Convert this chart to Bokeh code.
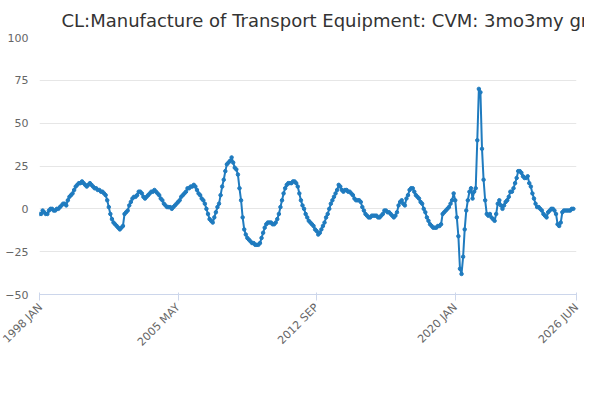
from bokeh.plotting import figure
from bokeh.models import FixedTicker, Legend, Label
from bokeh.embed import file_html
from bokeh.resources import INLINE

y1998 = [-3,-3,-1,-2,-3,-3,-1,0,0,-1,-1,0]
y1999 = [0,1,2,3,3,2,5,7,8,9,11,13]
y2000 = [14,15,15,16,15,14,13,14,15,14,13,12]
y2001 = [12,11,11,10,10,9,8,5,1,-3,-6,-8]
y2002 = [-9,-10,-11,-12,-11,-10,-3,-2,-1,2,4,6]
y2003 = [7,7,8,10,10,9,7,6,7,8,9,10]
y2004 = [10,11,10,9,8,6,5,3,2,1,1,1]
y2005 = [0,1,2,3,4,5,7,8,9,10,12,12]
y2006 = [13,13,14,13,11,9,8,6,5,3,0,-3]
y2007 = [-6,-7,-8,-5,-2,1,3,8,13,17,22,26]
y2008 = [27,28,30,27,24,23,20,12,5,-5,-12,-15]
y2009 = [-17,-18,-19,-20,-20,-21,-21,-21,-20,-17,-14,-11]
y2010 = [-9,-8,-8,-8,-9,-9,-8,-6,-3,1,5,9]
y2011 = [12,14,15,15,15,16,16,15,13,9,5,2]
y2012 = [0,-3,-5,-7,-8,-9,-10,-12,-13,-15,-14,-12]
y2013 = [-10,-8,-5,-3,0,3,5,7,9,11,14,13]
y2014 = [11,10,11,11,10,10,9,8,6,5,5,5]
y2015 = [4,1,-1,-3,-4,-5,-5,-4,-4,-4,-4,-5]
y2016 = [-5,-4,-3,-1,-1,-2,-2,-3,-4,-5,-4,-2]
y2017 = [2,4,5,3,2,6,8,11,12,12,10,8]
y2018 = [7,6,4,3,0,-2,-5,-7,-9,-10,-11,-11]
y2019 = [-11,-10,-10,-9,-3,-2,-1,0,1,3,5,9]
y2020 = [5,-5,-16,-35,-38,-28,-12,-1,5,10,12,6]
y2021 = [10,12,40,70,68,35,17,5,-3,-4,-3,-5]
y2022 = [-6,-7,-3,3,5,2,0,2,4,5,7,10]
y2023 = [10,12,15,18,22,22,21,19,18,18,19,15]
y2024 = [13,9,6,3,1,1,0,-1,-3,-4,-5,-2]
y2025 = [-1,0,0,-1,-3,-9,-10,-8,-2,-1,-1,-1]
y2026 = [-1,-1,0,0]

values = (y1998+y1999+y2000+y2001+y2002+y2003+y2004+y2005+y2006+y2007+y2008+y2009+
          y2010+y2011+y2012+y2013+y2014+y2015+y2016+y2017+y2018+y2019+y2020+y2021+
          y2022+y2023+y2024+y2025+y2026)
months = list(range(len(values)))
tick_pos = [0, 88, 176, 264, 341]
tick_labels = ["1998 JAN", "2005 MAY", "2012 SEP", "2020 JAN", "2026 JUN"]
series_name = "CL:Manufacture of Transport Equipment: CVM: 3mo3my gr"

color = "#1f7bbf"
p = figure(width=584, height=384, output_backend="svg", toolbar_location=None,
           x_range=(0, 341), y_range=(-50, 100),
           min_border_left=39, min_border_right=8, min_border_top=0, min_border_bottom=90)
p.title.text = series_name
p.title.text_font = "DejaVu Sans"
p.title.text_font_size = "18px"
p.title.text_font_style = "normal"
p.title.text_color = "#333333"
p.title.offset = 22
p.title.standoff = 14

r = p.line(months, values, line_color=color, line_width=2)
p.scatter(months, values, size=3.5, color=color)

p.xaxis.ticker = FixedTicker(ticks=tick_pos)
p.xaxis.major_label_overrides = {t: l for t, l in zip(tick_pos, tick_labels)}
p.xaxis.major_label_orientation = 0.785
p.xaxis.axis_line_color = "#ccd6eb"
p.xaxis.major_tick_line_color = "#ccd6eb"
p.xaxis.minor_tick_line_color = None
p.xgrid.grid_line_color = None
p.yaxis.ticker = FixedTicker(ticks=[-50, -25, 0, 25, 50, 75, 100])
p.yaxis.axis_line_color = None
p.yaxis.major_tick_line_color = None
p.yaxis.minor_tick_line_color = None
p.ygrid.grid_line_color = "#e6e6e6"
for ax in (p.xaxis, p.yaxis):
    ax.major_label_text_font = "DejaVu Sans"
    ax.major_label_text_font_size = "11px"
    ax.major_label_text_color = "#666666"
p.outline_line_color = None

legend = Legend(items=[(series_name, [r])], location=(40, -92), orientation="horizontal",
                label_text_font="DejaVu Sans", label_text_font_size="12px",
                label_text_font_style="bold", label_text_color="#333333",
                border_line_color=None, background_fill_alpha=0, glyph_width=22)
p.add_layout(legend, "center")
src = Label(x=537, y=-106, x_units="screen", y_units="screen", text="Source:",
            text_font="DejaVu Sans", text_font_size="12px", text_color="#666666",
            text_align="right")
p.add_layout(src)

open("out.html", "w").write(file_html(p, INLINE))
